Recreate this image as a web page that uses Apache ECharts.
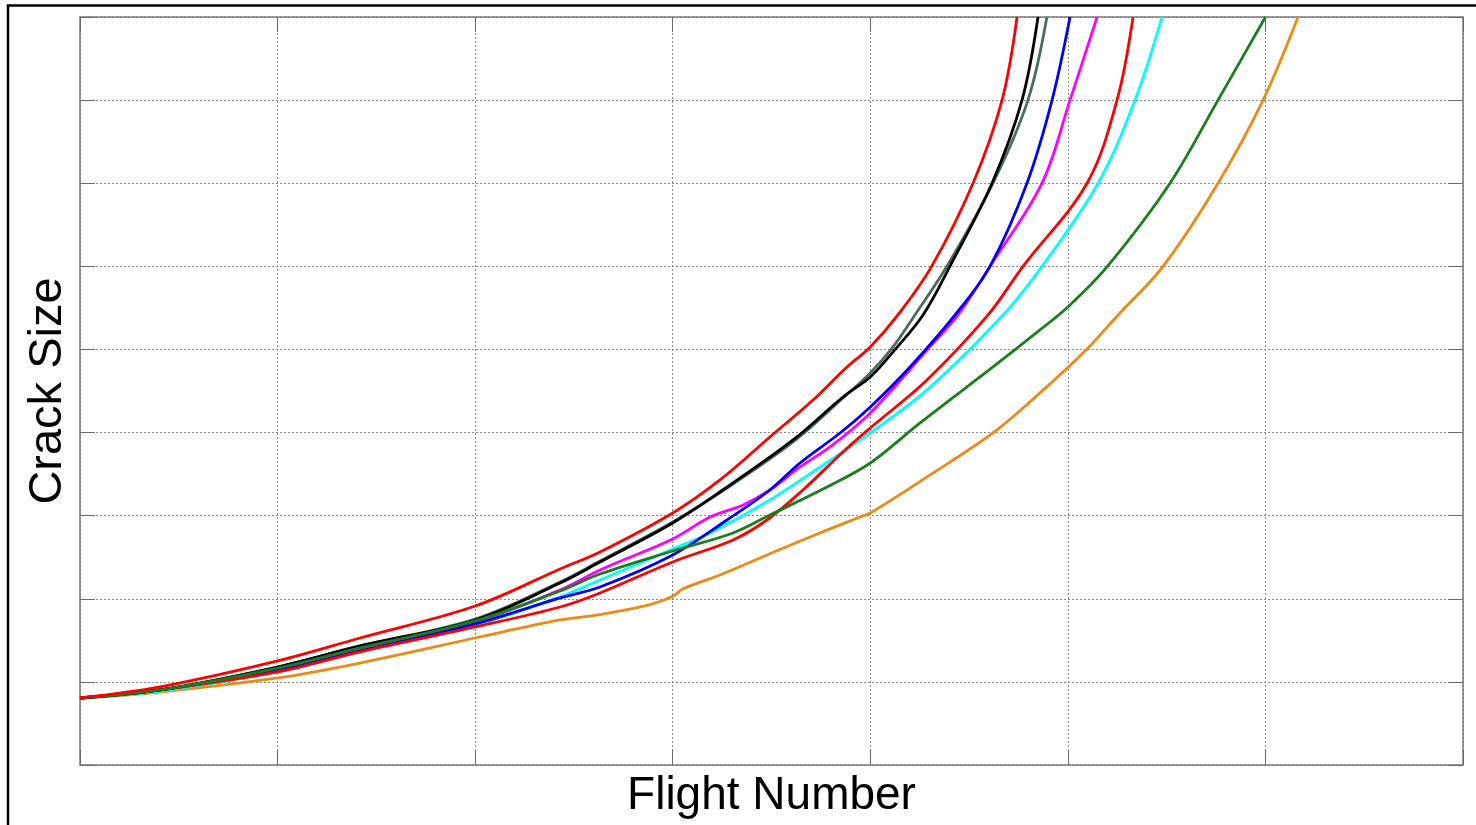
<!DOCTYPE html>
<html>
<head>
<meta charset="utf-8">
<title>Crack Size vs Flight Number</title>
<script src="https://cdn.jsdelivr.net/npm/echarts@6/dist/echarts.min.js"></script>
<style>
  html, body { margin: 0; padding: 0; background: #ffffff; }
  #chart { width: 1476px; height: 825px; }
</style>
</head>
<body>
<div id="chart"></div>
<script>
// Crack growth curves: [flight number (thousands), crack size]
const curveRedA = [[0,0.806],[0.405,0.939],[1.0,1.252],[1.417,1.528],[2.0,1.913],[2.43,2.359],[2.632,2.563],[3.0,3.032],[3.239,3.43],[3.492,3.947],[3.71,4.392],[3.882,4.789],[4.0,5.03],[4.14,5.415],[4.312,6.005],[4.52,7.0],[4.667,8.0],[4.743,9.0]];
const curveBlack = [[0,0.806],[0.405,0.903],[1.0,1.179],[1.417,1.432],[2.0,1.745],[2.43,2.19],[2.632,2.443],[3.0,2.912],[3.275,3.345],[3.609,3.911],[3.862,4.428],[4.0,4.669],[4.115,4.97],[4.267,5.415],[4.403,6.0],[4.616,7.0],[4.768,8.0],[4.849,9.0]];
const curveGrey = [[0,0.806],[0.405,0.903],[1.0,1.179],[1.417,1.432],[2.0,1.757],[2.43,2.202],[2.632,2.455],[3.0,2.924],[3.275,3.333],[3.609,3.887],[3.862,4.416],[4.0,4.717],[4.115,5.03],[4.226,5.415],[4.388,6.0],[4.621,7.0],[4.798,8.0],[4.894,9.0]];
const curveBlue = [[0,0.806],[0.405,0.903],[1.0,1.143],[1.417,1.372],[2.0,1.697],[2.43,2.01],[2.632,2.142],[3.0,2.527],[3.275,2.948],[3.492,3.309],[3.644,3.634],[3.847,3.995],[4.0,4.308],[4.201,4.789],[4.429,5.415],[4.606,6.0],[4.793,7.0],[4.92,8.0],[5.011,9.0]];
const curveMagenta = [[0,0.806],[0.405,0.903],[1.0,1.143],[1.417,1.384],[2.0,1.721],[2.43,2.106],[2.632,2.347],[3.0,2.72],[3.189,2.984],[3.356,3.129],[3.492,3.309],[3.644,3.586],[3.796,3.827],[4.0,4.236],[4.287,4.994],[4.444,5.415],[4.606,6.0],[4.869,7.0],[5.011,8.0],[5.148,9.0]];
const curveRedB = [[0,0.806],[0.405,0.903],[1.0,1.119],[1.417,1.36],[2.0,1.661],[2.43,1.901],[2.632,2.07],[3.0,2.443],[3.305,2.708],[3.477,2.948],[3.659,3.309],[3.862,3.767],[4.0,4.055],[4.287,4.633],[4.596,5.415],[4.773,6.0],[5.097,7.0],[5.249,8.0],[5.33,9.0]];
const curveCyan = [[0,0.806],[0.405,0.89],[1.0,1.119],[1.417,1.372],[2.0,1.685],[2.43,2.022],[2.632,2.226],[3.0,2.599],[3.189,2.792],[3.492,3.189],[3.746,3.586],[4.0,3.995],[4.287,4.513],[4.672,5.415],[4.869,6.0],[5.153,7.0],[5.34,8.0],[5.477,9.0]];
const curveGreen = [[0,0.806],[0.405,0.903],[1.0,1.167],[1.417,1.408],[2.0,1.733],[2.43,2.094],[2.632,2.298],[3.0,2.575],[3.305,2.792],[3.492,3.008],[3.781,3.345],[4.0,3.634],[4.252,4.116],[4.621,4.789],[4.859,5.235],[5.0,5.511],[5.198,5.993],[5.517,7.0],[5.76,8.0],[6.0,9.0]];
const curveOrange = [[0,0.806],[0.405,0.878],[1.0,1.047],[1.417,1.227],[2.0,1.528],[2.43,1.745],[2.632,1.81],[2.885,1.93],[3.0,2.03],[3.052,2.12],[3.239,2.286],[3.477,2.527],[3.695,2.744],[3.948,2.984],[4.0,3.032],[4.287,3.466],[4.621,3.995],[4.859,4.477],[5.097,5.006],[5.254,5.415],[5.482,6.0],[5.76,7.0],[5.988,8.0],[6.165,9.0]];

const xRange = { min: 0, max: 7, interval: 1 };
const yRange = { min: 0, max: 9, interval: 1 };

const curves = [
  { data: curveOrange,  color: '#ec8a14' },
  { data: curveCyan,    color: '#00ffff' },
  { data: curveMagenta, color: '#ff00ff' },
  { data: curveBlue,    color: '#0000ff' },
  { data: curveRedB,    color: '#ff0000' },
  { data: curveGrey,    color: '#4b6b5d' },
  { data: curveBlack,   color: '#000000' },
  { data: curveGreen,   color: '#1b7d1b' },
  { data: curveRedA,    color: '#ff0000' }
];

const fontFam = 'Liberation Sans, Arial, sans-serif';
function frameLine() { return { show: true, onZero: false, lineStyle: { color: '#7a7a7a', width: 1.5 } }; }
function innerTick() { return { show: true, inside: true, length: 15, lineStyle: { color: '#6a6a6a', width: 1 } }; }
function dotted() { return { show: true, lineStyle: { color: '#8a8a8a', width: 1, type: [2, 2] } }; }

const chart = echarts.init(document.getElementById('chart'), null, { renderer: 'canvas' });

chart.setOption({
  backgroundColor: '#ffffff',
  animation: false,
  grid: { left: 80, right: 13, top: 17, bottom: 60, containLabel: false },
  xAxis: [
    {
      type: 'value', position: 'bottom', ...xRange,
      name: 'Flight Number', nameLocation: 'middle', nameGap: 8,
      nameTextStyle: { fontFamily: fontFam, fontSize: 46, color: '#000', verticalAlign: 'top' },
      axisLine: frameLine(), axisTick: innerTick(), axisLabel: { show: false }, splitLine: dotted()
    },
    {
      type: 'value', position: 'top', ...xRange,
      axisLine: frameLine(), axisTick: innerTick(), axisLabel: { show: false }, splitLine: { show: false }
    }
  ],
  yAxis: [
    {
      type: 'value', position: 'left', ...yRange,
      name: 'Crack Size', nameLocation: 'middle', nameGap: 8,
      nameTextStyle: { fontFamily: fontFam, fontSize: 47, color: '#000' },
      axisLine: frameLine(), axisTick: innerTick(), axisLabel: { show: false }, splitLine: dotted()
    },
    {
      type: 'value', position: 'right', ...yRange,
      axisLine: frameLine(), axisTick: innerTick(), axisLabel: { show: false }, splitLine: { show: false }
    }
  ],
  graphic: [
    {
      // outer page frame (left and top edges)
      type: 'polyline', silent: true,
      shape: { points: [[8, 830], [8, 5.5], [1480, 5.5]] },
      style: { stroke: '#000000', lineWidth: 2.5, fill: null }
    }
  ],
  series: curves.map(c => ({
    type: 'line',
    xAxisIndex: 0, yAxisIndex: 0,
    data: c.data,
    showSymbol: false,
    smooth: 0.35,
    clip: true,
    lineStyle: { color: c.color, width: 2.8 },
    itemStyle: { color: c.color }
  }))
});
</script>
</body>
</html>
